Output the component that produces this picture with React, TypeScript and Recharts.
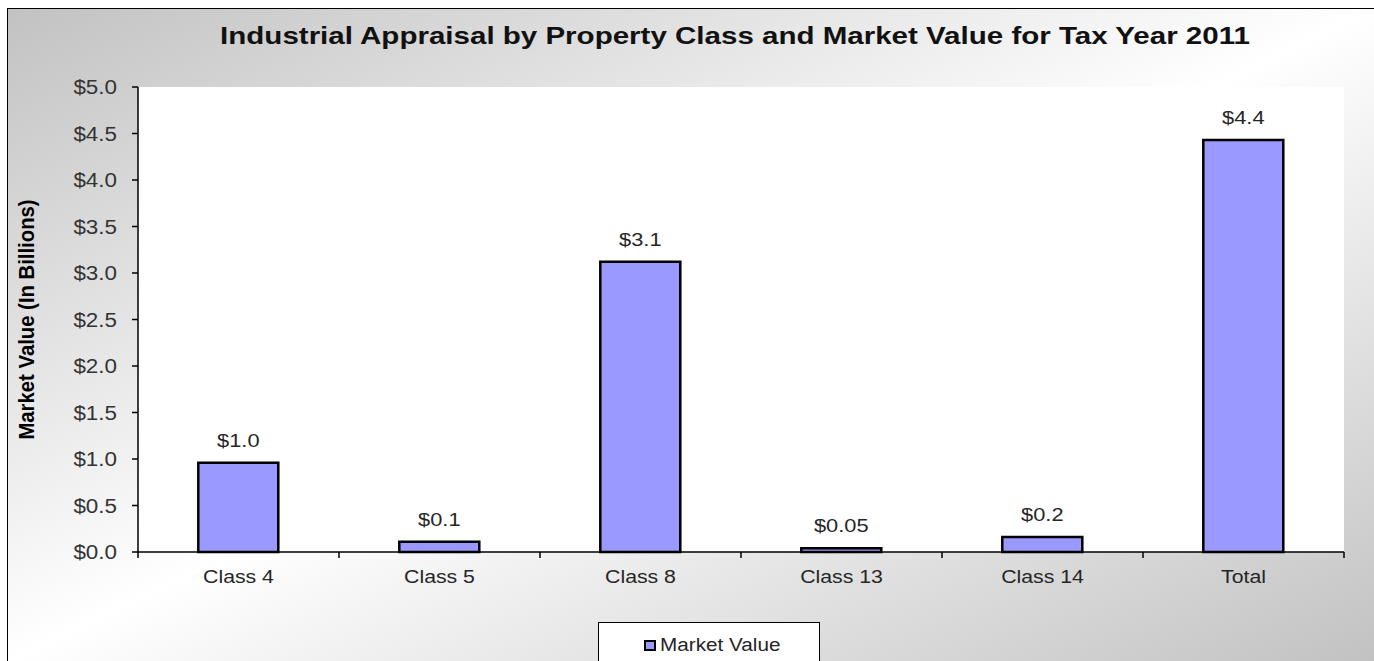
import React from 'react';
import { BarChart, Bar, XAxis, YAxis, CartesianGrid, LabelList } from 'recharts';

// data (market value in billions)
const categories = ['Class 4', 'Class 5', 'Class 8', 'Class 13', 'Class 14', 'Total'];
const marketValues = [0.96, 0.11, 3.12, 0.04, 0.16, 4.43];
const valueLabels = ['$1.0', '$0.1', '$3.1', '$0.05', '$0.2', '$4.4'];
const yTicks = [0, 0.5, 1, 1.5, 2, 2.5, 3, 3.5, 4, 4.5, 5];

const data = categories.map((c, i) => ({ name: c, value: marketValues[i], label: valueLabels[i] }));

const FONT = '"Liberation Sans", Arial, sans-serif';
const STRETCH = 1.15;
const CHART_W = 1366;
const CHART_H = 652;
const MARGIN = { top: 78, right: 30, bottom: 69, left: 0 };
const Y_AXIS_W = 130;
const BAND = (CHART_W - MARGIN.left - MARGIN.right - Y_AXIS_W) / categories.length;

const XTick = (props: any) => {
  const { x, y, payload, index } = props;
  const axisY = y - 18;
  return (
    <g>
      <line x1={x - BAND / 2} x2={x - BAND / 2} y1={axisY} y2={axisY + 6} stroke="#000" strokeWidth={1.5} />
      {index === categories.length - 1 && (
        <line x1={x + BAND / 2} x2={x + BAND / 2} y1={axisY} y2={axisY + 6} stroke="#000" strokeWidth={1.5} />
      )}
      <text
        transform={`translate(${x},${y}) scale(${STRETCH},1)`}
        textAnchor="middle"
        dy={13}
        fontSize={18.5}
        fill="#262626"
        fontFamily={FONT}
      >
        {payload.value}
      </text>
    </g>
  );
};

const YTick = (props: any) => {
  const { x, y, payload } = props;
  return (
    <text
      transform={`translate(${x},${y}) scale(${STRETCH},1)`}
      textAnchor="end"
      dy={7}
      fontSize={19.5}
      fill="#333"
      fontFamily={FONT}
    >
      {'$' + Number(payload.value).toFixed(1)}
    </text>
  );
};

const BarLabel = (props: any) => {
  const { x, y, width, value } = props;
  return (
    <text
      transform={`translate(${x + width / 2},${y - 16}) scale(${STRETCH},1)`}
      textAnchor="middle"
      fontSize={19}
      fill="#262626"
      fontFamily={FONT}
    >
      {value}
    </text>
  );
};

const YLabel = () => (
  <text
    transform={`translate(19,310.5) rotate(-90) scale(1,1.1)`}
    textAnchor="middle"
    dy={6.5}
    fontSize={20.3}
    fontWeight="bold"
    fill="#000"
    fontFamily={FONT}
  >
    Market Value (In Billions)
  </text>
);

export default function App() {
  return (
    <>
      <style>{'body{margin:0;overflow:hidden;}'}</style>
      <div
        style={{
          position: 'absolute',
          left: 7,
          top: 8,
          width: CHART_W + 1,
          height: CHART_H + 1,
          boxSizing: 'border-box',
          borderTop: '1px solid #000',
          borderLeft: '1px solid #000',
          overflow: 'hidden',
          background: 'linear-gradient(to bottom right, #c2c2c2 0%, #ffffff 50%, #c2c2c2 100%)',
          fontFamily: FONT,
        }}
      >
        <div
          style={{
            position: 'absolute',
            left: 0,
            width: CHART_W,
            top: 13,
            textAlign: 'center',
            whiteSpace: 'nowrap',
            fontSize: 24,
            fontWeight: 'bold',
            color: '#111',
            paddingLeft: 88,
            boxSizing: 'border-box',
            transform: 'scaleX(1.23)',
            transformOrigin: '727px 0',
          }}
        >
          Industrial Appraisal by Property Class and Market Value for Tax Year 2011
        </div>
        <BarChart width={CHART_W} height={CHART_H} data={data} margin={MARGIN} barCategoryGap="30%">
          <CartesianGrid vertical={false} horizontalValues={yTicks.slice(1, -1)} stroke="#3a3a3a" fill="#fff" />
          <XAxis
            dataKey="name"
            xAxisId="main"
            interval={0}
            tickSize={6}
            tickMargin={12}
            tickLine={false}
            axisLine={{ stroke: '#000', strokeWidth: 1.5 }}
            tick={<XTick />}
            height={40}
          />
          <XAxis xAxisId="top" orientation="top" dataKey="name" height={0} tick={false} tickLine={false} axisLine={{ stroke: '#8a8a8a', strokeWidth: 1.5 }} />
          <YAxis
            yAxisId="left"
            domain={[0, 5]}
            ticks={yTicks}
            width={Y_AXIS_W}
            tickSize={6}
            tickMargin={15}
            tickLine={{ stroke: '#000', strokeWidth: 1.5 }}
            axisLine={{ stroke: '#000', strokeWidth: 1.5 }}
            tick={<YTick />}
            label={<YLabel />}
          />
          <YAxis yAxisId="right" orientation="right" domain={[0, 5]} width={0} tick={false} tickLine={false} axisLine={{ stroke: '#8a8a8a', strokeWidth: 1.5 }} />
          <Bar dataKey="value" xAxisId="main" yAxisId="left" fill="#9999ff" stroke="#000" strokeWidth={2.5} isAnimationActive={false}>
            <LabelList dataKey="label" content={<BarLabel />} />
          </Bar>
        </BarChart>
        <div
          style={{
            position: 'absolute',
            left: 590,
            top: 613,
            width: 222,
            height: 60,
            boxSizing: 'border-box',
            border: '1px solid #000',
            background: '#fff',
          }}
        >
          <div style={{ position: 'absolute', left: 45, top: 17, width: 12, height: 11, boxSizing: 'border-box', border: '2px solid #000', background: '#9999ff' }} />
          <div
            style={{
              position: 'absolute',
              left: 61,
              top: 12,
              fontSize: 18,
              color: '#262626',
              transform: `scaleX(${STRETCH})`,
              transformOrigin: 'left center',
              whiteSpace: 'nowrap',
            }}
          >
            Market Value
          </div>
        </div>
      </div>
    </>
  );
}
